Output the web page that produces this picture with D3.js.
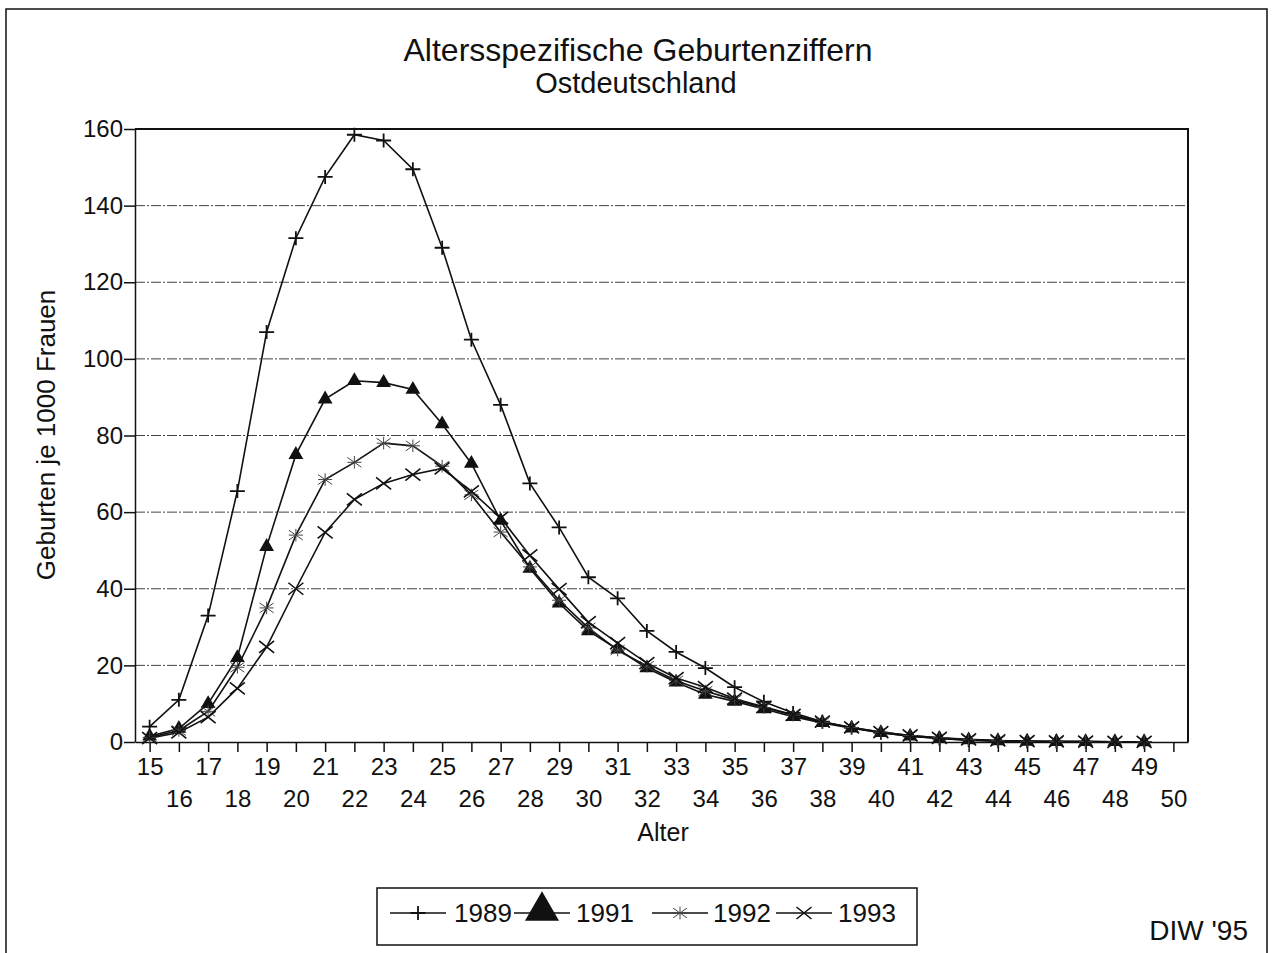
<!DOCTYPE html>
<html>
<head>
<meta charset="utf-8">
<script src="https://cdn.jsdelivr.net/npm/d3@7"></script>
<style>
  body { margin: 0; background: #fff; }
  svg { font-family: "Liberation Sans", Arial, Helvetica, sans-serif; }
  .grid line { stroke: #444; stroke-width: 1; stroke-dasharray: 10 2 2 2; }
  .axis text { font-size: 24px; fill: #111; }
  .axis line, .axis path { stroke: #111; stroke-width: 1.5; }
</style>
</head>
<body>
<svg id="chart" width="1274" height="953"></svg>
<script>
// Altersspezifische Geburtenziffern, Ostdeutschland
const ages = [15, 16, 17, 18, 19, 20, 21, 22, 23, 24, 25, 26, 27, 28, 29, 30, 31, 32,
  33, 34, 35, 36, 37, 38, 39, 40, 41, 42, 43, 44, 45, 46, 47, 48, 49];

const rates1989 = [4, 11, 33, 65.5, 107, 131.5, 147.5, 158.5, 157, 149.5, 129, 105, 88, 67.5,
  56, 43, 37.5, 29, 23.5, 19.3, 14.3, 10.5, 7.6, 5.3, 3.7, 2.4, 1.5, 0.9, 0.5, 0.3, 0.2, 0.1, 0.1, 0.05, 0.05];
const rates1991 = [1.5, 3.5, 10, 22, 51, 75, 89.5, 94.3, 93.8, 92, 83, 72.7, 57.8, 45.3,
  36.2, 29, 24.2, 19.3, 15.6, 12.4, 10.6, 8.6, 6.6, 5, 3.6, 2.4, 1.5, 0.9, 0.5, 0.3, 0.15, 0.1, 0.05, 0.05, 0.02];
const rates1992 = [1.2, 3, 8, 19.5, 35, 54, 68.5, 73, 78, 77.3, 72, 64.5, 54.8, 45.7,
  37, 29.8, 24, 19.8, 16, 13.3, 11, 9, 7, 5.1, 3.8, 2.6, 1.7, 1.1, 0.6, 0.3, 0.2, 0.1, 0.1, 0.05, 0.05];
const rates1993 = [1, 2.5, 6.5, 14, 24.8, 40, 54.7, 63.3, 67.5, 69.8, 71.4, 65.4, 58.5, 48.7,
  39.9, 31.3, 25.8, 20.6, 16.7, 14.3, 11.3, 9.2, 7.1, 5.3, 3.8, 2.6, 1.7, 1.1, 0.7, 0.4, 0.2, 0.15, 0.1, 0.05, 0.05];

const yTicks = [0, 20, 40, 60, 80, 100, 120, 140, 160];
const xTicks = d3.range(15, 51);

const series = [
  { name: '1989', values: rates1989, marker: 'plus' },
  { name: '1991', values: rates1991, marker: 'triangle' },
  { name: '1992', values: rates1992, marker: 'star' },
  { name: '1993', values: rates1993, marker: 'cross' }
];

const svg = d3.select('#chart');
const plot = { left: 135, right: 1188, top: 129, bottom: 742 };

const x = d3.scaleLinear().domain([14.5, 50.5]).range([plot.left, plot.right]);
const y = d3.scaleLinear().domain([0, 160]).range([plot.bottom, plot.top]);

// outer frame (runs off the bottom of the picture)
svg.append('path')
  .attr('d', 'M6,960V9H1267V960')
  .attr('fill', 'none')
  .attr('stroke', '#111')
  .attr('stroke-width', 1.5);

// titles
svg.append('text')
  .attr('x', 638).attr('y', 61)
  .attr('text-anchor', 'middle')
  .attr('font-size', '32px')
  .attr('fill', '#111')
  .text('Altersspezifische Geburtenziffern');
svg.append('text')
  .attr('x', 636).attr('y', 93)
  .attr('text-anchor', 'middle')
  .attr('font-size', '29px')
  .attr('fill', '#111')
  .text('Ostdeutschland');

// grid lines
svg.append('g')
  .attr('class', 'grid')
  .selectAll('line')
  .data(yTicks.filter(d => d > 0 && d < 160))
  .enter()
  .append('line')
  .attr('x1', plot.left).attr('x2', plot.right)
  .attr('y1', d => y(d)).attr('y2', d => y(d));

// plot box: top and right edges
svg.append('path')
  .attr('d', `M${plot.left},${plot.top}H${plot.right}V${plot.bottom}`)
  .attr('fill', 'none')
  .attr('stroke', '#111')
  .attr('stroke-width', 2);

// y axis
const yAxis = svg.append('g')
  .attr('class', 'axis')
  .attr('transform', `translate(${plot.left},0)`)
  .call(d3.axisLeft(y).tickValues(yTicks).tickSize(11).tickPadding(1).tickSizeOuter(0));
yAxis.select('.domain').attr('stroke-width', 2);

// x axis, labels staggered in two rows
const xAxis = svg.append('g')
  .attr('class', 'axis')
  .attr('transform', `translate(0,${plot.bottom})`)
  .call(d3.axisBottom(x).tickValues(xTicks).tickFormat(d3.format('d')).tickSize(10).tickSizeOuter(0));
xAxis.select('.domain').attr('stroke-width', 2.5);
xAxis.selectAll('.tick text')
  .attr('y', d => d % 2 === 1 ? 16 : 48)
  .attr('dy', '0.71em');

// axis titles
svg.append('text')
  .attr('x', 663).attr('y', 841)
  .attr('text-anchor', 'middle')
  .attr('font-size', '25px')
  .attr('fill', '#111')
  .text('Alter');
svg.append('text')
  .attr('transform', 'translate(55,435) rotate(-90)')
  .attr('text-anchor', 'middle')
  .attr('font-size', '26px')
  .attr('fill', '#111')
  .text('Geburten je 1000 Frauen');

// marker shapes
function drawMarker(g, type, cx, cy, scale) {
  const s = scale || 1;
  if (type === 'plus') {
    g.append('path')
      .attr('d', `M${cx - 7.5 * s},${cy}H${cx + 7.5 * s}M${cx},${cy - 7 * s}V${cy + 7 * s}`)
      .attr('stroke', '#111').attr('stroke-width', 1.8).attr('fill', 'none');
  } else if (type === 'triangle') {
    g.append('path')
      .attr('d', d3.symbol().type(d3.symbolTriangle).size(95 * s * s)())
      .attr('transform', `translate(${cx},${cy})`)
      .attr('fill', '#111');
  } else if (type === 'star') {
    const r = 7 * s;
    g.append('path')
      .attr('d', `M${cx - r},${cy - r * 0.7}L${cx + r},${cy + r * 0.7}M${cx - r},${cy + r * 0.7}L${cx + r},${cy - r * 0.7}M${cx - r},${cy}H${cx + r}M${cx},${cy - r * 0.9}V${cy + r * 0.9}`)
      .attr('stroke', '#444').attr('stroke-width', 1).attr('fill', 'none');
  } else if (type === 'cross') {
    const r = 7.5 * s;
    g.append('path')
      .attr('d', `M${cx - r},${cy - r * 0.8}L${cx + r},${cy + r * 0.8}M${cx - r},${cy + r * 0.8}L${cx + r},${cy - r * 0.8}`)
      .attr('stroke', '#111').attr('stroke-width', 1.6).attr('fill', 'none');
  }
}

const line = d3.line()
  .x((d, i) => x(ages[i]))
  .y(d => y(d));

const lines = svg.append('g').attr('class', 'series');
series.forEach(s => {
  lines.append('path')
    .datum(s.values)
    .attr('d', line)
    .attr('fill', 'none')
    .attr('stroke', '#111')
    .attr('stroke-width', 1.6);
});
series.forEach(s => {
  const g = lines.append('g');
  s.values.forEach((v, i) => drawMarker(g, s.marker, x(ages[i]), y(v)));
});

// legend
svg.append('rect')
  .attr('x', 377).attr('y', 888)
  .attr('width', 540).attr('height', 57)
  .attr('fill', '#fff')
  .attr('stroke', '#111')
  .attr('stroke-width', 1.5);

const legendLineX = [390, 514, 652, 776];
const legendTextX = [454, 576, 713, 838];
series.forEach((s, i) => {
  const g = svg.append('g');
  const lx = legendLineX[i];
  const ly = 913;
  g.append('line')
    .attr('x1', lx).attr('x2', lx + 56)
    .attr('y1', ly).attr('y2', ly)
    .attr('stroke', '#111').attr('stroke-width', 1.6);
  const big = s.marker === 'triangle';
  drawMarker(g, s.marker, lx + 28, big ? ly - 2 : ly, big ? 2.3 : 1);
  g.append('text')
    .attr('x', legendTextX[i]).attr('y', ly + 9)
    .attr('font-size', '26px')
    .attr('fill', '#111')
    .text(s.name);
});

svg.append('text')
  .attr('x', 1248).attr('y', 940)
  .attr('text-anchor', 'end')
  .attr('font-size', '28px')
  .attr('fill', '#111')
  .text("DIW '95");
</script>
</body>
</html>
